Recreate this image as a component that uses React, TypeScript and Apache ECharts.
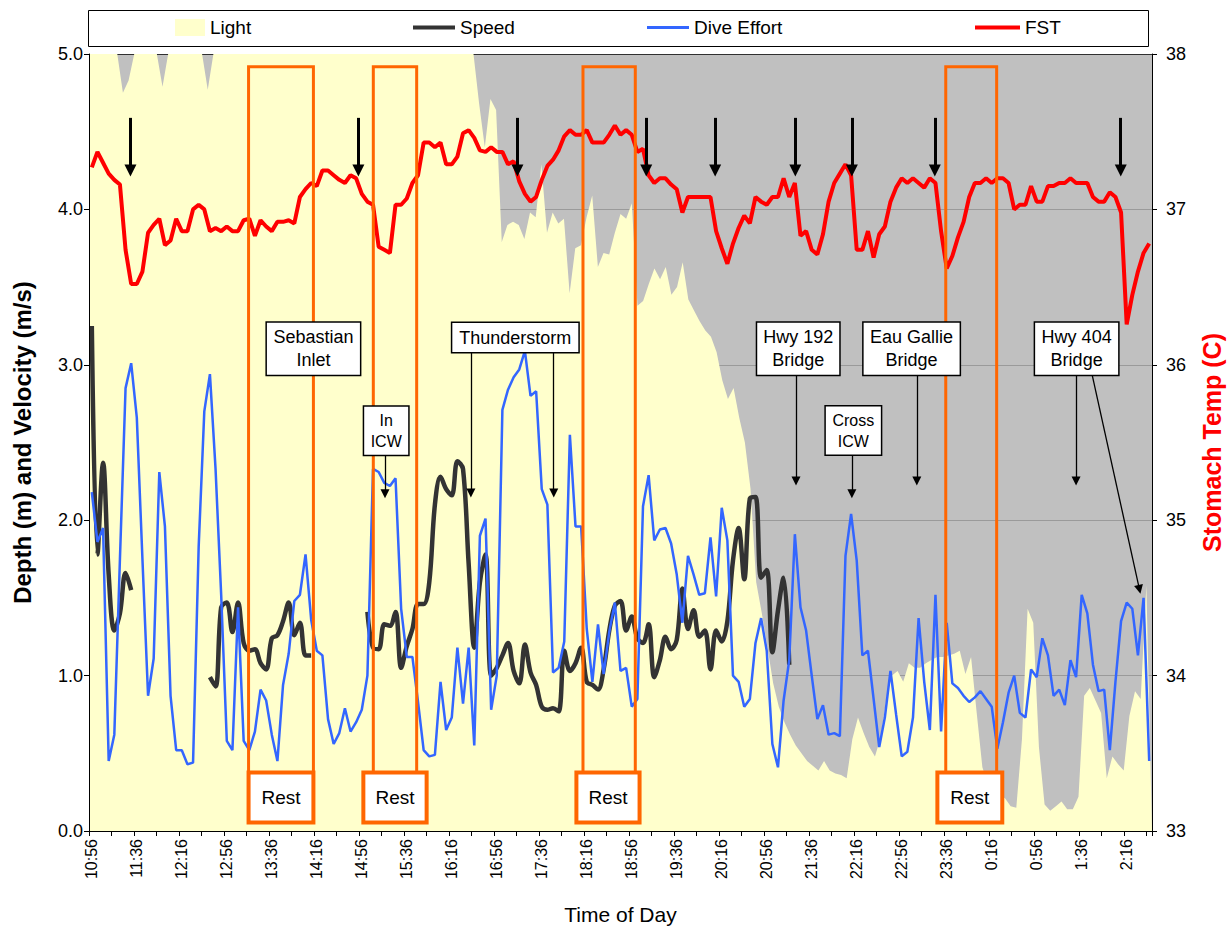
import React, { useEffect, useRef } from "react";
import * as echarts from "echarts";

const FONT = "'Liberation Sans', Arial, Helvetica, sans-serif";

// ---- time categories: 5-minute samples from 10:56 ----
const START_TIME = "10:56";
const STEP_MIN = 5;
const SAMPLE_COUNT = 189;
const categories: string[] = (() => {
  const [h0, m0] = START_TIME.split(":").map(Number);
  const out: string[] = [];
  for (let i = 0; i < SAMPLE_COUNT; i++) {
    const t = (h0 * 60 + m0 + i * STEP_MIN) % 1440;
    const h = Math.floor(t / 60);
    const m = t % 60;
    out.push(h + ":" + (m < 10 ? "0" + m : String(m)));
  }
  return out;
})();

const leftTicks = [0, 1, 2, 3, 4, 5];
const rightTicks = [33, 34, 35, 36, 37, 38];

// ---- series values ----
const light = [
  5, 5, 5, 5, 5, 5, 4.75, 4.83, 5, 5,
  5, 5, 5, 4.79, 5, 5, 5, 5, 5, 5,
  5, 4.77, 5, 5, 5, 5, 5, 5, 5, 5,
  5, 5, 5, 5, 5, 5, 5, 5, 5, 5,
  5, 5, 5, 5, 5, 5, 5, 5, 5, 5,
  5, 5, 5, 5, 5, 5, 5, 5, 5, 5,
  5, 5, 5, 5, 5, 5, 5, 5, 5, 4.68,
  4.40, 4.71, 4.64, 3.79, 3.90, 3.92, 3.90, 3.81, 3.98, 3.95,
  4.29, 3.85, 3.98, 3.91, 3.94, 3.46, 3.75, 3.77, 3.95, 4.09,
  3.63, 3.72, 3.71, 3.85, 3.97, 3.94, 4.04, 3.38, 3.41, 3.52,
  3.62, 3.55, 3.63, 3.45, 3.50, 3.66, 3.42, 3.35, 3.28, 3.22,
  3.18, 3.08, 2.90, 2.78, 2.85, 2.66, 2.50, 2.20, 1.60, 1.40,
  1.18, 0.95, 0.80, 0.70, 0.62, 0.55, 0.50, 0.45, 0.42, 0.39,
  0.45, 0.39, 0.37, 0.36, 0.34, 0.59, 0.73, 0.63, 0.54, 0.48,
  0.60, 0.85, 1.00, 1.03, 0.96, 1.08, 1.05, 1.05, 1.08, 1.10,
  1.12, 1.12, 1.13, 1.14, 1.16, 1.01, 1.12, 0.76, 0.41, 0.30,
  0.25, 0.23, 0.21, 0.16, 0.15, 0.59, 1.43, 1.34, 0.54, 0.17,
  0.13, 0.16, 0.19, 0.14, 0.14, 0.22, 0.87, 0.92, 0.84, 0.76,
  0.34, 0.48, 0.43, 0.39, 0.74, 0.90, 0.85, 1.58, 0,
];

const speed = [
  3.25, 1.78, 2.37, 1.65, 1.29, 1.40, 1.66, 1.55, null, null,
  null, null, null, null, null, null, null, null, null, null,
  null, 0.99, 0.93, 1.44, 1.47, 1.28, 1.47, 1.21, 1.16, 1.17,
  1.08, 1.04, 1.24, 1.26, 1.35, 1.47, 1.26, 1.34, 1.13, 1.13,
  null, null, null, null, null, null, null, null, null, 1.41,
  1.18, 1.17, 1.33, 1.32, 1.41, 1.05, 1.19, 1.30, 1.46, 1.46,
  1.60, 2.10, 2.28, 2.20, 2.16, 2.38, 2.33, 1.72, 1.18, 1.60,
  1.78, 1.00, 1.05, 1.13, 1.21, 1.03, 0.95, 1.20, 1.02, 0.94,
  0.80, 0.78, 0.79, 0.77, 1.16, 1.03, 1.08, 1.18, 0.96, 0.94,
  0.91, 1.04, 1.29, 1.45, 1.48, 1.29, 1.38, 1.24, 1.21, 1.33,
  0.99, 1.10, 1.25, 1.17, 1.23, 1.56, 1.30, 1.42, 1.25, 1.29,
  1.04, 1.29, 1.22, 1.35, 1.74, 1.95, 1.62, 2.14, 2.15, 1.63,
  1.68, 1.15, 1.42, 1.63, 1.07,
];

const diveEffort = [
  2.18, 1.86, 1.95, 0.45, 0.62, 1.75, 2.85, 3.01, 2.66, 1.75,
  0.87, 1.11, 2.31, 1.96, 0.87, 0.52, 0.52, 0.43, 0.44, 1.83,
  2.70, 2.94, 2.33, 1.52, 0.58, 0.52, 1.44, 0.58, 0.52, 0.64,
  0.91, 0.84, 0.62, 0.45, 0.94, 1.14, 1.48, 1.52, 1.78, 1.36,
  1.16, 1.13, 0.72, 0.56, 0.63, 0.79, 0.64, 0.70, 0.78, 1.00,
  2.33, 2.31, 2.24, 2.22, 2.27, 1.43, 1.12, 1.12, 0.83, 0.52,
  0.48, 0.49, 0.96, 0.65, 0.73, 1.18, 0.82, 1.18, 0.55, 1.90,
  2.01, 0.78, 1.00, 2.71, 2.84, 2.92, 2.97, 3.09, 2.80, 2.83,
  2.20, 2.10, 1.02, 1.05, 1.22, 2.55, 1.96, 1.96, 1.30, 0.96,
  1.33, 1.01, 1.28, 1.47, 1.03, 1.05, 0.80, 0.85, 2.09, 2.29,
  1.87, 1.94, 1.95, 1.85, 1.65, 1.34, 1.77, 1.65, 1.52, 1.53,
  1.89, 1.51, 2.08, 1.87, 1.00, 0.96, 0.80, 0.85, 1.21, 1.37,
  1.16, 0.56, 0.41, 0.84, 1.10, 1.91, 1.44, 1.29, 1.00, 0.72,
  0.81, 0.62, 0.63, 0.61, 1.77, 2.04, 1.74, 1.13, 1.16, 0.85,
  0.54, 0.73, 1.03, 0.75, 0.48, 0.51, 0.73, 1.37, 0.96, 0.65,
  1.52, 0.64, 1.34, 0.95, 0.92, 0.87, 0.83, 0.86, 0.90, 0.85,
  0.80, 0.53, 0.70, 0.89, 1.00, 0.76, 0.73, 1.04, 0.99, 1.24,
  1.13, 0.87, 0.91, 0.81, 1.10, 0.99, 1.52, 1.40, 1.07, 0.90,
  0.91, 0.52, 0.96, 1.35, 1.47, 1.43, 1.13, 1.50, 0.45,
];

const fst = [
  37.27, 37.37, 37.30, 37.23, 37.19, 37.16, 36.74, 36.52, 36.52, 36.60,
  36.85, 36.90, 36.94, 36.77, 36.80, 36.94, 36.86, 36.86, 37.00, 37.03,
  37.00, 36.86, 36.88, 36.86, 36.89, 36.86, 36.86, 36.93, 36.94, 36.83,
  36.93, 36.89, 36.86, 36.92, 36.92, 36.93, 36.91, 37.08, 37.13, 37.17,
  37.15, 37.25, 37.25, 37.22, 37.19, 37.17, 37.22, 37.20, 37.10, 37.05,
  37.03, 36.76, 36.74, 36.72, 37.03, 37.03, 37.07, 37.17, 37.22, 37.43,
  37.43, 37.40, 37.43, 37.29, 37.29, 37.34, 37.49, 37.51, 37.46, 37.38,
  37.37, 37.40, 37.37, 37.37, 37.29, 37.31, 37.18, 37.10, 37.05, 37.08,
  37.19, 37.28, 37.32, 37.38, 37.47, 37.51, 37.48, 37.48, 37.51, 37.43,
  37.43, 37.43, 37.48, 37.54, 37.48, 37.51, 37.48, 37.37, 37.39, 37.22,
  37.17, 37.20, 37.20, 37.16, 37.13, 36.98, 37.08, 37.08, 37.08, 37.08,
  37.08, 36.86, 36.75, 36.65, 36.78, 36.88, 36.96, 36.91, 37.08, 37.05,
  37.03, 37.08, 37.08, 37.20, 37.08, 37.17, 36.83, 36.86, 36.74, 36.71,
  36.84, 37.05, 37.17, 37.23, 37.29, 37.22, 36.74, 36.74, 36.86, 36.69,
  36.84, 36.89, 37.05, 37.14, 37.20, 37.17, 37.20, 37.17, 37.14, 37.20,
  37.17, 36.86, 36.62, 36.70, 36.82, 36.92, 37.08, 37.17, 37.17, 37.20,
  37.17, 37.20, 37.20, 37.17, 37.00, 37.03, 37.03, 37.15, 37.05, 37.05,
  37.15, 37.15, 37.17, 37.17, 37.20, 37.17, 37.17, 37.17, 37.08, 37.05,
  37.05, 37.11, 37.08, 36.98, 36.26, 36.45, 36.60, 36.72, 36.78,
];

// ---- annotations (positions in sample-index units on x, depth units on y) ----
const restSpans = [
  { from: 27.87, to: 39.4, boxFrom: 27.87, boxTo: 39.4 },
  { from: 50.05, to: 57.76, boxFrom: 48.28, boxTo: 59.53 },
  { from: 87.33, to: 96.63, boxFrom: 86.16, boxTo: 97.39 },
  { from: 151.83, to: 160.88, boxFrom: 150.34, boxTo: 161.88 },
];
const REST_TOP = 4.918;
const REST_BOX_TOP = 0.376;
const REST_BOX_BOTTOM = 0.055;

const topArrowX = [6.87, 47.39, 75.68, 98.58, 110.83, 125.08, 135.14, 149.88, 182.94];
const TOP_ARROW_FROM = 4.589;
const TOP_ARROW_TO = 4.25;

const pointerLines = [
  [[52.13, 2.42], [52.13, 2.17]],
  [[67.4, 3.08], [67.4, 2.175]],
  [[82.13, 3.08], [82.13, 2.175]],
  [[125.2, 2.937], [125.2, 2.253]],
  [[135.14, 2.42], [135.14, 2.17]],
  [[146.68, 2.937], [146.68, 2.253]],
  [[175.0, 2.937], [175.0, 2.253]],
  [[177.85, 2.937], [186.27, 1.555]],
];

const notes = [
  { text: "Sebastian\nInlet", x: 39.4, y: 3.103, w: 93, size: 18, lh: 23 },
  { text: "In\nICW", x: 52.34, y: 2.576, w: 44, size: 16, lh: 21 },
  { text: "Thunderstorm", x: 75.3, y: 3.175, w: 126, size: 18, lh: 23 },
  { text: "Hwy 192\nBridge", x: 125.6, y: 3.103, w: 82, size: 18, lh: 23 },
  { text: "Cross\nICW", x: 135.4, y: 2.577, w: 55, size: 16, lh: 21 },
  { text: "Eau Gallie\nBridge", x: 145.76, y: 3.103, w: 96, size: 18, lh: 23 },
  { text: "Hwy 404\nBridge", x: 175.1, y: 3.103, w: 83, size: 18, lh: 23 },
];

const legendText = { fontSize: 19, color: "#000", fontFamily: FONT };

function buildOption() {
  const restAreas: any[] = [];
  restSpans.forEach((r) => {
    restAreas.push([
      {
        coord: [r.from, REST_TOP],
        name: "",
        itemStyle: { color: "rgba(0,0,0,0)", borderColor: "#FF6600", borderWidth: 3 },
        label: { show: false },
      },
      { coord: [r.to, REST_BOX_TOP] },
    ]);
  });
  restSpans.forEach((r) => {
    restAreas.push([
      {
        coord: [r.boxFrom, REST_BOX_TOP],
        name: "Rest",
        itemStyle: { color: "#FFFFFF", borderColor: "#FF6600", borderWidth: 4, opacity: 1 },
        label: {
          show: true,
          position: "inside",
          fontSize: 19,
          color: "#000",
          fontFamily: FONT,
        },
      },
      { coord: [r.boxTo, REST_BOX_BOTTOM] },
    ]);
  });

  return {
    animation: false,
    textStyle: { fontFamily: FONT },
    grid: {
      left: 89,
      right: 79,
      top: 54,
      bottom: 98,
      show: true,
      backgroundColor: "#C0C0C0",
      borderWidth: 0,
    },
    graphic: [
      {
        type: "rect",
        z: 0,
        shape: { x: 88.5, y: 10.5, width: 1060, height: 36 },
        style: { fill: "#FFFFFF", stroke: "#000000", lineWidth: 1 },
      },
    ],
    legend: [
      {
        data: ["Light"], left: 175, top: 18, padding: 0, icon: "rect",
        itemWidth: 30, itemHeight: 17, itemGap: 6, selectedMode: false, textStyle: legendText, z: 5,
      },
      {
        data: ["Speed"], left: 413, top: 18, padding: 0, icon: "rect",
        itemWidth: 42, itemHeight: 4, selectedMode: false, textStyle: legendText, z: 5,
      },
      {
        data: ["Dive Effort"], left: 647, top: 18, padding: 0, icon: "rect",
        itemWidth: 42, itemHeight: 3, selectedMode: false, textStyle: legendText, z: 5,
      },
      {
        data: ["FST"], left: 975, top: 18, padding: 0, icon: "rect",
        itemWidth: 45, itemHeight: 4, selectedMode: false, textStyle: legendText, z: 5,
      },
    ],
    xAxis: [
      {
        type: "category",
        data: categories,
        boundaryGap: true,
        z: 5,
        axisLine: { show: true, lineStyle: { color: "#000", width: 1 } },
        axisTick: { show: true, interval: 3, length: 5, lineStyle: { color: "#000" } },
        axisLabel: {
          interval: 7,
          rotate: 90,
          fontSize: 16,
          color: "#000",
          margin: 8,
          fontFamily: FONT,
        },
        splitLine: { show: false },
        name: "Time of Day",
        nameLocation: "middle",
        nameGap: 73,
        nameTextStyle: { fontSize: 21, color: "#000", fontFamily: FONT },
      },
      { type: "category", data: categories, boundaryGap: false, show: false },
      { type: "value", min: -0.5, max: 188.5, show: false },
    ],
    yAxis: [
      {
        type: "value",
        position: "left",
        min: leftTicks[0],
        max: leftTicks[leftTicks.length - 1],
        interval: 1,
        z: 0,
        axisLine: { show: false },
        axisTick: { show: false },
        axisLabel: {
          fontSize: 18,
          color: "#000",
          margin: 6,
          fontFamily: FONT,
          formatter: (v: number) => v.toFixed(1),
        },
        splitLine: {
          show: true,
          lineStyle: {
            color: ["#9A9A9A", "#9A9A9A", "#9A9A9A", "#9A9A9A", "#9A9A9A", "#303030"],
            width: 1,
          },
        },
        name: "Depth (m) and Velocity (m/s)",
        nameLocation: "middle",
        nameRotate: 90,
        nameGap: 55,
        nameTextStyle: { fontSize: 24, fontWeight: "bold", color: "#000", fontFamily: FONT },
      },
      {
        type: "value",
        position: "right",
        min: rightTicks[0],
        max: rightTicks[rightTicks.length - 1],
        interval: 1,
        z: 5,
        axisLine: { show: true, lineStyle: { color: "#000", width: 1 } },
        axisTick: { show: true, length: 5, lineStyle: { color: "#000" } },
        axisLabel: { fontSize: 18, color: "#000", margin: 14, fontFamily: FONT },
        splitLine: { show: false },
        name: "Stomach Temp (C)",
        nameLocation: "middle",
        nameRotate: 90,
        nameGap: 47,
        nameTextStyle: { fontSize: 25, fontWeight: "bold", color: "#FF0000", fontFamily: FONT },
      },
      {
        type: "value",
        position: "left",
        min: leftTicks[0],
        max: leftTicks[leftTicks.length - 1],
        interval: 1,
        z: 5,
        axisLine: { show: true, lineStyle: { color: "#000", width: 1 } },
        axisTick: { show: true, length: 5, lineStyle: { color: "#000" } },
        axisLabel: { show: false },
        splitLine: { show: false },
      },
    ],
    series: [
      {
        name: "Light",
        type: "line",
        xAxisIndex: 1,
        yAxisIndex: 0,
        data: light,
        symbol: "none",
        z: 1,
        itemStyle: { color: "#FFFFCC" },
        lineStyle: { width: 0, color: "#FFFFCC" },
        areaStyle: { color: "#FFFFCC", opacity: 1 },
        silent: true,
      },
      {
        name: "Speed",
        type: "line",
        xAxisIndex: 0,
        yAxisIndex: 0,
        data: speed,
        symbol: "none",
        smooth: 0.35,
        connectNulls: false,
        z: 2,
        itemStyle: { color: "#333333" },
        lineStyle: { width: 4.5, color: "#333333" },
        silent: true,
      },
      {
        name: "Dive Effort",
        type: "line",
        xAxisIndex: 0,
        yAxisIndex: 0,
        data: diveEffort,
        symbol: "none",
        z: 3,
        itemStyle: { color: "#3366FF" },
        lineStyle: { width: 2.5, color: "#3366FF" },
        silent: true,
      },
      {
        name: "FST",
        type: "line",
        xAxisIndex: 0,
        yAxisIndex: 1,
        data: fst,
        symbol: "none",
        z: 4,
        itemStyle: { color: "#FF0000" },
        lineStyle: { width: 4, color: "#FF0000" },
        silent: true,
      },
      {
        name: "rests",
        type: "line",
        xAxisIndex: 2,
        yAxisIndex: 0,
        data: [],
        symbol: "none",
        silent: true,
        z: 6,
        markArea: { silent: true, z: 6, data: restAreas },
      },
      {
        name: "topArrows",
        type: "line",
        xAxisIndex: 2,
        yAxisIndex: 0,
        data: [],
        symbol: "none",
        silent: true,
        z: 7,
        markLine: {
          silent: true,
          z: 7,
          symbol: ["none", "triangle"],
          symbolSize: 12,
          label: { show: false },
          itemStyle: { color: "#000" },
          lineStyle: { color: "#000", width: 3, type: "solid" },
          data: topArrowX.map((x) => [{ coord: [x, TOP_ARROW_FROM] }, { coord: [x, TOP_ARROW_TO] }]),
        },
      },
      {
        name: "pointers",
        type: "line",
        xAxisIndex: 2,
        yAxisIndex: 0,
        data: [],
        symbol: "none",
        silent: true,
        z: 7,
        markLine: {
          silent: true,
          z: 7,
          symbol: ["none", "triangle"],
          symbolSize: 9,
          label: { show: false },
          itemStyle: { color: "#000" },
          lineStyle: { color: "#000", width: 1.3, type: "solid" },
          data: pointerLines.map((p) => [{ coord: p[0] }, { coord: p[1] }]),
        },
      },
      {
        name: "notes",
        type: "line",
        xAxisIndex: 2,
        yAxisIndex: 0,
        data: [],
        symbol: "none",
        silent: true,
        z: 8,
        markPoint: {
          silent: true,
          z: 8,
          symbol: "rect",
          symbolSize: 1,
          itemStyle: { color: "rgba(0,0,0,0)" },
          data: notes.map((n) => ({
            coord: [n.x, n.y],
            value: 0,
            label: {
              show: true,
              position: "inside",
              formatter: n.text,
              fontSize: n.size,
              lineHeight: n.lh,
              width: n.w,
              align: "center",
              verticalAlign: "middle",
              color: "#000",
              fontFamily: FONT,
              backgroundColor: "#FFFFFF",
              borderColor: "#000000",
              borderWidth: 1.5,
              padding: [3, 0, 3, 0],
            },
          })),
        },
      },
    ],
  };
}

export default function App() {
  const ref = useRef<HTMLDivElement>(null);
  useEffect(() => {
    if (!ref.current) return;
    const chart = echarts.init(ref.current, undefined, { renderer: "svg" });
    chart.setOption(buildOption() as any);
    return () => {
      chart.dispose();
    };
  }, []);
  return (
    <div
      ref={ref}
      style={{ position: "absolute", left: 0, top: 0, width: 1232, height: 930, background: "#FFFFFF" }}
    />
  );
}
